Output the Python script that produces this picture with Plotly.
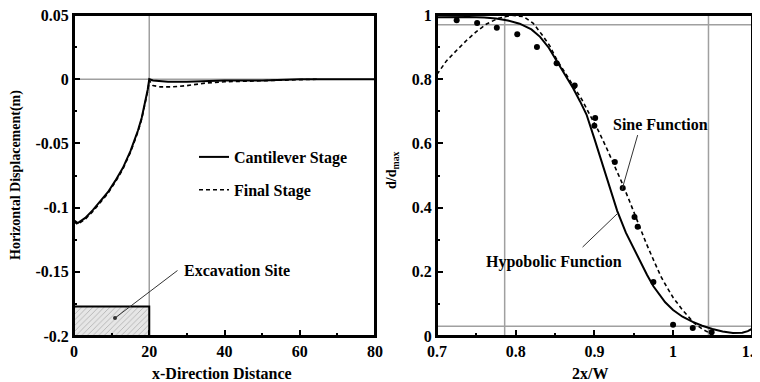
import plotly.graph_objects as go

# ---------------- Left panel data ----------------
cant_x = [0, 1, 3, 5, 7, 9, 11, 13, 15, 17, 18, 19, 19.6, 20, 21, 25, 30, 40, 50, 60, 70, 80]
cant_y = [-0.110, -0.112, -0.108, -0.102, -0.095, -0.088, -0.079, -0.069, -0.056, -0.040,
          -0.030, -0.017, -0.008, 0.0, -0.001, -0.002, -0.002, -0.001, -0.001, 0.0, 0.0, 0.0]
final_x = [0, 1, 3, 5, 7, 9, 11, 13, 15, 17, 18, 19, 19.6, 20, 21, 23, 26, 30, 35, 40, 50, 60, 65]
final_y = [-0.111, -0.113, -0.109, -0.103, -0.096, -0.089, -0.080, -0.070, -0.057, -0.041,
           -0.031, -0.018, -0.009, -0.001, -0.005, -0.006, -0.006, -0.005, -0.003, -0.002,
           -0.001, -0.0005, 0.0]
site_x = [0, 20]          # excavation extent
site_depth = [-0.2, -0.177]
left_vline = 20
left_hline = 0

# ---------------- Right panel data ----------------
hyp_x = [0.70, 0.72, 0.74, 0.76, 0.775, 0.79, 0.805, 0.82, 0.831, 0.842, 0.852, 0.862, 0.873,
         0.882, 0.89, 0.90, 0.91, 0.92, 0.929, 0.94, 0.95, 0.958, 0.967, 0.975, 0.99, 1.00,
         1.012, 1.025, 1.037, 1.05, 1.063, 1.076, 1.088, 1.095, 1.10]
hyp_y = [0.993, 0.994, 0.994, 0.992, 0.989, 0.983, 0.973, 0.955, 0.932, 0.898, 0.858, 0.818,
         0.772, 0.730, 0.690, 0.615, 0.535, 0.457, 0.390, 0.322, 0.272, 0.235, 0.190, 0.155,
         0.105, 0.081, 0.060, 0.044, 0.032, 0.022, 0.014, 0.009, 0.010, 0.015, 0.022]
sine_x = [0.70, 0.712, 0.725, 0.738, 0.75, 0.763, 0.778, 0.795, 0.81, 0.822, 0.833, 0.843,
          0.852, 0.862, 0.873, 0.884, 0.894, 0.905, 0.915, 0.925, 0.935, 0.945, 0.955, 0.966,
          0.976, 0.985, 0.992, 1.00, 1.012, 1.027, 1.037, 1.045, 1.05]
sine_y = [0.815, 0.857, 0.890, 0.922, 0.948, 0.972, 0.990, 0.999, 0.995, 0.975, 0.940, 0.905,
          0.862, 0.822, 0.780, 0.737, 0.690, 0.640, 0.588, 0.535, 0.478, 0.418, 0.355, 0.288,
          0.232, 0.183, 0.153, 0.120, 0.081, 0.040, 0.022, 0.010, 0.004]
meas_x = [0.725, 0.751, 0.776, 0.802, 0.827, 0.852, 0.875, 0.901, 0.900, 0.926, 0.936,
          0.951, 0.955, 0.975, 1.000, 1.025, 1.049]
meas_y = [0.984, 0.975, 0.960, 0.940, 0.900, 0.850, 0.780, 0.679, 0.655, 0.542, 0.461,
          0.371, 0.340, 0.168, 0.035, 0.025, 0.012]
right_vlines = [0.786, 1.045]
right_hlines = [0.97, 0.03]

# page is rendered with an 8px body margin; the figure fills the rest of the window
OFF = 8
W, H = 760 - OFF, 382 - OFF


def PX(px):
    return (px - OFF) / W


def PY(py):
    return 1 - (py - OFF) / H


FONT = "Liberation Serif"
BOLD = dict(family=FONT, size=16, color="black", weight="bold")
BOLDV = dict(family=FONT, size=14, color="black", weight="bold")
TICK = dict(family=FONT, size=16, color="black", weight="bold")

fig = go.Figure()

# Excavation site (hatched)
fig.add_trace(go.Scatter(
    x=[site_x[0], site_x[1], site_x[1], site_x[0], site_x[0]],
    y=[site_depth[0], site_depth[0], site_depth[1], site_depth[1], site_depth[0]],
    fill="toself", fillcolor="#e6e6e6",
    fillpattern=dict(shape="/", fgcolor="#9a9a9a", bgcolor="#e6e6e6", size=4, solidity=0.15),
    line=dict(color="black", width=2), mode="lines", showlegend=False,
    xaxis="x", yaxis="y", hoverinfo="skip"))

fig.add_trace(go.Scatter(x=cant_x, y=cant_y, mode="lines", name="Cantilever Stage",
                         line=dict(color="black", width=2), xaxis="x", yaxis="y",
                         legendgroup="a"))
fig.add_trace(go.Scatter(x=final_x, y=final_y, mode="lines", name="Final Stage",
                         line=dict(color="black", width=1.6, dash="4px,3px"), xaxis="x", yaxis="y",
                         legendgroup="b"))

fig.add_trace(go.Scatter(x=hyp_x, y=hyp_y, mode="lines", line=dict(color="black", width=2),
                         showlegend=False, xaxis="x2", yaxis="y2"))
fig.add_trace(go.Scatter(x=sine_x, y=sine_y, mode="lines", line=dict(color="black", width=1.6,
                         dash="4px,3px"), showlegend=False, xaxis="x2", yaxis="y2"))
fig.add_trace(go.Scatter(x=meas_x, y=meas_y, mode="markers",
                         marker=dict(color="black", size=6, symbol="circle"),
                         showlegend=False, xaxis="x2", yaxis="y2"))

shapes = []
GRAY = dict(color="#a0a0a0", width=1.5)
shapes.append(dict(type="line", xref="x", yref="y", x0=left_vline, x1=left_vline,
                   y0=-0.2, y1=0.05, line=GRAY, layer="below"))
shapes.append(dict(type="line", xref="x", yref="y", x0=0, x1=80,
                   y0=left_hline, y1=left_hline, line=GRAY, layer="below"))
for v in right_vlines:
    shapes.append(dict(type="line", xref="x2", yref="y2", x0=v, x1=v, y0=0, y1=1,
                       line=GRAY, layer="below"))
for h in right_hlines:
    shapes.append(dict(type="line", xref="x2", yref="y2", x0=0.7, x1=1.1, y0=h, y1=h,
                       line=GRAY, layer="below"))
# panel frames
for xa, ya in (("x", "y"), ("x2", "y2")):
    shapes.append(dict(type="rect", xref=xa + " domain", yref=ya + " domain",
                       x0=0, x1=1, y0=0, y1=1, line=dict(color="black", width=2),
                       fillcolor="rgba(0,0,0,0)"))
LEAD = dict(color="#333", width=1)
# leader lines
shapes.append(dict(type="line", xref="x", yref="y", x0=27.5, y0=-0.149, x1=10.9, y1=-0.186,
                   line=LEAD))
shapes.append(dict(type="circle", xref="x", yref="y", xsizemode="pixel", ysizemode="pixel",
                   xanchor=10.9, yanchor=-0.186, x0=-2, x1=2, y0=-2, y1=2,
                   fillcolor="#333", line=dict(width=0)))
shapes.append(dict(type="line", xref="x2", yref="y2", x0=0.955, y0=0.626, x1=0.935, y1=0.455,
                   line=LEAD))
shapes.append(dict(type="line", xref="x2", yref="y2", x0=0.885, y0=0.277, x1=0.930, y1=0.383,
                   line=LEAD))

C = dict(xanchor="center", yanchor="middle", showarrow=False)
ann = []
# axis titles
ann.append(dict(text="Horizontal Displacement(m)", x=PX(16), y=PY(175), xref="paper",
                yref="paper", textangle=-90, font=BOLDV, **C))
ann.append(dict(text="x-Direction Distance", x=PX(222), y=PY(373), xref="paper",
                yref="paper", font=BOLD, **C))
ann.append(dict(text="2x/W", x=PX(590), y=PY(373), xref="paper", yref="paper",
                font=BOLD, **C))
ann.append(dict(text="d/d<sub>max</sub>", x=PX(393), y=PY(170), xref="paper",
                yref="paper", textangle=-90, font=BOLDV, **C))
# labels
ann.append(dict(text="Excavation Site", x=43.2, y=-0.149, xref="x", yref="y",
                font=BOLD, **C))
ann.append(dict(text="Sine Function", x=0.984, y=0.660, xref="x2", yref="y2",
                font=BOLD, **C))
ann.append(dict(text="Hypobolic Function", x=0.849, y=0.231, xref="x2", yref="y2",
                font=BOLD, **C))

axis_common = dict(showline=True, linecolor="black", linewidth=2, mirror=True,
                   ticks="inside", ticklen=6, tickwidth=1.5, tickcolor="black",
                   showgrid=False, zeroline=False, tickfont=TICK, automargin=False,
                   ticklabeloverflow="allow")

fig.update_layout(
    template="none",
    width=W, height=H, margin=dict(l=0, r=0, t=0, b=0, autoexpand=False),
    paper_bgcolor="white", plot_bgcolor="white",
    xaxis=dict(domain=[PX(74), PX(375)], range=[0, 80], anchor="y",
               tickvals=[0, 20, 40, 60, 80], ticktext=["0", "20", "40", "60", "80"],
               minor=dict(ticks="inside", ticklen=3, tickcolor="black", dtick=10, tick0=0),
               **axis_common),
    yaxis=dict(domain=[PY(336), PY(15)], range=[-0.2, 0.05], anchor="x",
               tickvals=[0.05, 0, -0.05, -0.1, -0.15, -0.2],
               ticktext=["0.05", "0", "-0.05", "-0.1", "-0.15", "-0.2"],
               minor=dict(ticks="inside", ticklen=3, tickcolor="black", dtick=0.025, tick0=0),
               **axis_common),
    xaxis2=dict(domain=[PX(437), PX(752)], range=[0.7, 1.1003], anchor="y2",
                tickvals=[0.7, 0.8, 0.9, 1.0, 1.1], ticktext=["0.7", "0.8", "0.9", "1", "1.1"],
                minor=dict(ticks="inside", ticklen=3, tickcolor="black", dtick=0.05, tick0=0.7),
                **axis_common),
    yaxis2=dict(domain=[PY(336), PY(15)], range=[0, 1], anchor="x2",
                tickvals=[0, 0.2, 0.4, 0.6, 0.8, 1], ticktext=["0", "0.2", "0.4", "0.6", "0.8", "1"],
                minor=dict(ticks="inside", ticklen=3, tickcolor="black", dtick=0.1, tick0=0),
                **axis_common),
    legend=dict(x=PX(194), y=PY(140), xanchor="left", yanchor="top",
                bgcolor="rgba(0,0,0,0)", font=BOLD, tracegroupgap=9,
                itemwidth=30),
    shapes=shapes, annotations=ann, showlegend=True,
)

fig.write_html("out.html")
